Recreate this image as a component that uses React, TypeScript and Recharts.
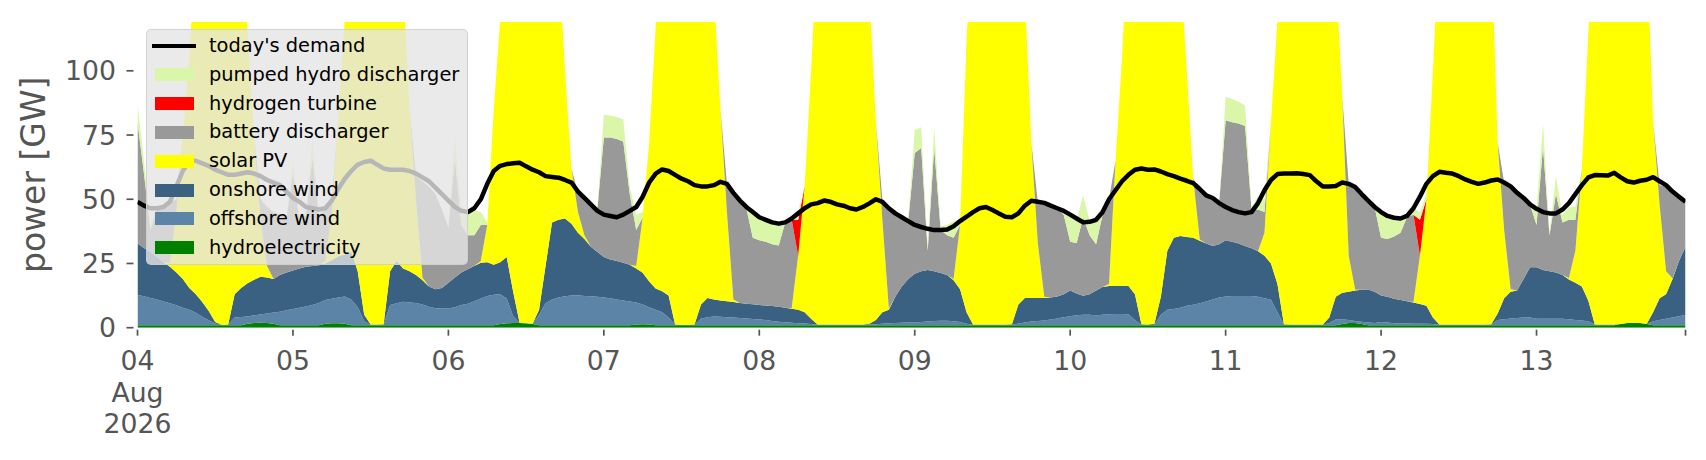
import { ComposedChart, Area, Line, XAxis, YAxis } from 'recharts'

// hourly values, 04 Aug 2026 00:00 .. 13 Aug 2026 23:00 (one line per day)
const hydroelectricity = [
  1, 1, 1, 1, 1, 1, 1, 1, 1, 1, 1, 1, 1, 1, 1, 1, 1, 1.5, 1.8, 1.9, 1.8, 1.5, 1, 1,
  1, 1, 1, 1, 1, 1.5, 1.7, 1.7, 1.5, 1, 1, 1, 1, 1, 1, 1, 1, 1, 1, 1, 1, 1, 1, 1,
  1, 1, 1, 1, 1, 1, 1, 1, 1.4, 1.7, 1.8, 1.8, 1.7, 1.4, 1, 1, 1, 1, 1, 1, 1, 1, 1, 1,
  1, 1, 1, 1, 1, 1.2, 1.3, 1.2, 1, 1, 1, 1, 1, 1, 1, 1, 1, 1, 1, 1, 1, 1, 1, 1,
  1, 1, 1, 1, 1, 1, 1, 1, 1, 1, 1, 1, 1, 1, 1, 1, 1, 1, 1, 1, 1, 1, 1, 1,
  1, 1, 1, 1, 1, 1, 1, 1, 1, 1, 1, 1, 1, 1, 1, 1, 1, 1, 1, 1, 1, 1, 1, 1,
  1, 1, 1, 1, 1, 1, 1, 1, 1, 1, 1, 1, 1, 1, 1, 1, 1, 1, 1, 1, 1, 1, 1, 1,
  1, 1, 1, 1, 1, 1, 1, 1, 1, 1, 1, 1, 1, 1, 1, 1, 1, 1, 1.4, 1.8, 1.8, 1.4, 1, 1,
  1, 1, 1, 1, 1, 1, 1, 1, 1, 1, 1, 1, 1, 1, 1, 1, 1, 1, 1, 1, 1, 1, 1, 1,
  1, 1, 1, 1, 1, 1, 1, 1, 1, 1, 1, 1, 1, 1.4, 1.8, 1.9, 1.8, 1.4, 1, 1, 1, 1, 1, 1,
]

const offshoreWind = [
  11.7, 11.2, 10.6, 10, 9.2, 8.5, 7.7, 6.8, 6, 4.8, 3.3, 1.9, 0.6, 0.1, 0.2, 3, 3.2, 2.9, 3, 3.2, 3.7, 4.4, 5.2, 5.8,
  6.3, 6.8, 7.3, 7.8, 8.6, 9.3, 9.6, 10.1, 10.6, 10, 7, 1.5, 0.1, 0.1, 0.2, 7.8, 8.5, 9.1, 8.8, 8.6, 8, 7.2, 6.6, 6.5,
  6.5, 7, 7.8, 8.3, 9.3, 10.4, 11.3, 11.8, 11.6, 9.7, 2.7, 0, 0, 0.1, 4, 8.5, 10, 10.8, 11.2, 11.5, 11.6, 11.3, 11.2, 11,
  10.8, 10.5, 10, 9.6, 9.2, 8.6, 7.7, 6.8, 6, 5, 3, 0.1, 0.1, 0.1, 0.1, 2.5, 3.1, 3.4, 3.3, 3.1, 3, 2.8, 2.6, 2.4,
  2.2, 2, 1.6, 1.3, 1.1, 0.9, 0.7, 0.6, 0.4, 0.1, 0.1, 0.1, 0.1, 0.1, 0.1, 0.1, 0.1, 0.2, 0.3, 0.5, 0.7, 0.8, 0.9, 1,
  1, 1.2, 1.4, 1.6, 1.7, 1.7, 1.5, 1.2, 0.5, 0.1, 0.1, 0.1, 0.1, 0.1, 0.1, 0.1, 0.6, 1, 1.4, 1.6, 1.8, 2.2, 2.6, 3.1,
  3.5, 3.8, 4, 4, 3.8, 4, 4.2, 4.3, 4.3, 4.2, 2, 0.1, 0.1, 0.1, 4, 6, 6.3, 6.8, 7.5, 7.9, 8.5, 9.2, 10, 10.8,
  11.1, 11.3, 11.3, 11.3, 11.3, 11, 10.5, 9.9, 5, 0.2, 0.1, 0.1, 0.1, 0.1, 0.1, 0.1, 0.8, 2.2, 1.9, 1.2, 0.8, 0.9, 1, 0.8,
  1.2, 1, 0.7, 0.6, 0.6, 0.5, 0.5, 0.5, 0.4, 0.1, 0.1, 0.1, 0.1, 0.1, 0.1, 0.1, 0.1, 0.2, 2, 2.3, 2.6, 2.8, 3, 3,
  2.5, 2.5, 2.5, 2.5, 2.5, 2.3, 2, 1.8, 1.5, 0.2, 0.2, 0.2, 0.2, 0, 0, 0, 0, 0, 1.5, 2, 2.5, 3, 3.5, 4,
]

const onshoreWind = [
  20.1, 18.8, 17.9, 16.5, 15.3, 14.2, 12.8, 11.2, 8.5, 7.2, 5.7, 3.6, 0.6, 0, 0, 9, 11.3, 12.9, 13.9, 14.7, 14, 13.1, 14.3, 14.7,
  15, 15.2, 15.4, 15.2, 14.7, 14.2, 15, 16, 16.4, 18.6, 14, 2.5, 0.1, 0.1, 0.1, 13.2, 16.5, 12.9, 12.2, 10.9, 9.5, 7.8, 7.4, 8,
  10, 11.5, 12.7, 13.5, 13.7, 13.9, 13.2, 11.7, 12.5, 16.1, 9.5, 0, 0, 0, 2, 14.5, 30, 30.2, 30.3, 28, 24.4, 22.2, 19.3, 17.5,
  15.7, 15, 15, 14.7, 14.3, 13.2, 12.4, 10, 8.3, 8.2, 8.5, 0.1, 0, 0, 0.1, 5.5, 7.5, 6.6, 6.3, 6.2, 6, 5.8, 5.7, 5.7,
  5.6, 5.6, 5.8, 5.9, 5.7, 5.5, 5.3, 4.4, 2.1, 0.1, 0.1, 0.1, 0.1, 0.1, 0.1, 0.1, 0.1, 0.3, 1.7, 4.5, 5.3, 10.2, 14.1, 17,
  19, 19.8, 20.1, 19.4, 18.6, 17.8, 16, 12.8, 4.5, 0.1, 0.1, 0.1, 0.1, 0.1, 0.1, 0.2, 7.4, 9.6, 9.2, 9, 8.8, 8.6, 8.5, 8.9,
  10, 8.5, 7.4, 8, 9.7, 10.8, 11, 11, 11, 11, 10, 0.2, 0.1, 0.4, 7, 23, 27.7, 27.9, 26.8, 26.1, 24.3, 22.6, 20.8, 20.7,
  21.9, 21.2, 20.5, 19.5, 18.6, 17.8, 16.5, 14.1, 11, 0.1, 0.1, 0.1, 0.1, 0.1, 0.1, 0.1, 2.2, 8.8, 10.3, 11, 11.9, 12.5, 12.9, 12.2,
  10.3, 10, 9.6, 9.2, 8.7, 8.3, 7.7, 7, 2.6, 0.1, 0.1, 0.1, 0.1, 0.1, 0.1, 0.1, 0.1, 0.1, 2.5, 8.2, 10.4, 10.7, 15, 19.5,
  20, 19, 18.5, 18, 17, 15.5, 14.5, 13.2, 8, 0, 0, 0, 0, 0, 0, 0, 0, 0, 3.5, 8.5, 9.5, 15, 21.5, 26.5,
]

const solarPV = [
  0, 0, 0, 0, 0, 1.3, 23.5, 56, 89.5, 137, 175, 195, 205, 200, 190, 170, 140, 97.7, 56.3, 22.2, 4.5, 0, 0, 0,
  0, 0, 0, 0, 0, 1, 18.7, 54.2, 91.5, 130, 160, 185, 200, 205, 200, 180, 150, 112, 63, 29.5, 1, 0, 0, 0,
  0, 0, 0, 0, 0, 0.7, 14.5, 60.5, 94.5, 140, 170, 190, 200, 195, 185, 165, 140, 103, 57.5, 21.5, 8, 1.5, 0, 0,
  0, 0, 0, 0, 0, 1, 21.6, 54, 101.7, 150, 175, 195, 200, 195, 185, 165, 140, 119, 74.4, 34.7, 1, 0, 0, 0,
  0, 0, 0, 0, 0, 0.2, 21, 49, 96.5, 150, 175, 190, 195, 190, 180, 165, 150, 128.5, 77, 36, 0.5, 0, 0, 0,
  0, 0, 0, 0, 0, 0, 0.5, 25, 106, 160, 185, 200, 205, 200, 190, 175, 155, 118.4, 60.4, 21.4, 0.4, 0, 0, 0,
  0, 0, 0, 0, 0, 0, 0.8, 48.7, 88.7, 140, 170, 190, 200, 200, 190, 175, 150, 104.3, 64.7, 23, 0.5, 0, 0, 0,
  0, 0, 0, 0, 0, 0, 9, 55, 103, 165, 190, 200, 205, 200, 190, 175, 160, 128, 76.4, 14, 0.3, 0, 0, 0,
  0, 0, 0, 0, 0, 0.2, 18.8, 41.5, 96, 150, 180, 195, 200, 195, 185, 170, 160, 148.7, 66.5, 26.5, 1, 0, 0, 0,
  0, 0, 0, 0, 0, 0.5, 12.5, 46, 104.5, 165, 190, 200, 205, 200, 190, 180, 165, 148.7, 74, 36.5, 9, 0.2, 0, 0,
]

const batteryDischarger = [
  47.2, 29, 8.5, 18.5, 21.5, 24, 5, 0, 0, 0, 0, 0, 0, 0, 0, 0, 0, 0, 0, 8, 23, 26, 23.5, 21.5,
  37.7, 19, 20.3, 42, 19.7, 20, 4, 0, 0, 0, 0, 0, 0, 0, 0, 0, 0, 0, 0, 9, 37.5, 39, 37, 30.5,
  21.5, 46.5, 18.5, 13.2, 12, 14, 0, 0, 0, 0, 0, 0, 0, 0, 0, 0, 0, 0, 0, 0, 7.5, 14, 16, 16.5,
  46.5, 47.5, 47.5, 47.2, 27.5, 14, 0, 0, 0, 0, 0, 0, 0, 0, 0, 0, 0, 0, 0, 11, 41.5, 39.9, 37.2, 25.9,
  25.2, 24.9, 24.1, 23.8, 33.2, 34.4, 0, 0, 0, 0, 0, 0, 0, 0, 0, 0, 0, 0, 0, 8, 39, 32.5, 27, 22.5,
  47, 48, 7.5, 48, 16.7, 15.5, 16, 0, 0, 0, 0, 0, 0, 0, 0, 0, 0, 0, 0, 16, 36.6, 35.7, 34.4, 31,
  19, 19.7, 30.6, 23, 18, 28.2, 33, 0, 0, 0, 0, 0, 0, 0, 0, 0, 0, 0, 0, 0, 19.7, 18.7, 18.7, 16,
  46.8, 46.5, 46.7, 46.7, 15.1, 16.2, 8, 0, 0, 0, 0, 0, 0, 0, 0, 0, 0, 0, 0, 28, 40, 37.2, 34.6, 33,
  22.5, 22.5, 24.2, 26.2, 32.7, 34, 0, 0, 0, 0, 0, 0, 0, 0, 0, 0, 0, 0, 0, 18.5, 40, 38, 31.5, 24.5,
  16.5, 47.9, 14, 30.5, 20.5, 22.7, 12, 0, 0, 0, 0, 0, 0, 0, 0, 0, 0, 0, 0, 7.5, 33, 33.8, 25, 17.5,
]

const hydrogenTurbine = [
  0, 0, 0, 0, 0, 0, 0, 0, 0, 0, 0, 0, 0, 0, 0, 0, 0, 0, 0, 0, 0, 0, 0, 0,
  0, 0, 0, 0, 0, 0, 0, 0, 0, 0, 0, 0, 0, 0, 0, 0, 0, 0, 0, 0, 0, 0, 0, 0,
  0, 0, 0, 0, 0, 0, 0, 0, 0, 0, 0, 0, 0, 0, 0, 0, 0, 0, 0, 0, 0, 0, 0, 0,
  0, 0, 0, 0, 0, 0, 0, 0, 0, 0, 0, 0, 0, 0, 0, 0, 0, 0, 0, 0, 0, 0, 0, 0,
  0, 0, 0, 0, 0, 0, 14, 0, 0, 0, 0, 0, 0, 0, 0, 0, 0, 0, 0, 0, 0, 0, 0, 0,
  0, 0, 0, 0, 0, 0, 0, 0, 0, 0, 0, 0, 0, 0, 0, 0, 0, 0, 0, 0, 0, 0, 0, 0,
  0, 0, 0, 0, 0, 0, 0, 0, 0, 0, 0, 0, 0, 0, 0, 0, 0, 0, 0, 0, 0, 0, 0, 0,
  0, 0, 0, 0, 0, 0, 0, 0, 0, 0, 0, 0, 0, 0, 0, 0, 0, 0, 0, 0, 0, 0, 0, 0,
  0, 0, 0, 0, 0, 0, 14, 0, 0, 0, 0, 0, 0, 0, 0, 0, 0, 0, 0, 0, 0, 0, 0, 0,
  0, 0, 0, 0, 0, 0, 0, 0, 0, 0, 0, 0, 0, 0, 0, 0, 0, 0, 0, 0, 0, 0, 0, 0,
]

const pumpedHydro = [
  7, 5, 2, 1, 0.5, 0, 0, 0, 0, 0, 0, 0, 0, 0, 0, 0, 0, 0, 0, 0.5, 0.5, 0.5, 0.5, 0.5,
  5, 1, 1, 8, 0.5, 0.5, 0.5, 0, 0, 0, 0, 0, 0, 0, 0, 0, 0, 0, 0, 0, 0, 0, 0, 0,
  1, 9, 5, 9, 9.5, 5, 1, 0, 0, 0, 0, 0, 0, 0, 0, 0, 0, 0, 0, 0, 0.5, 0.5, 0.5, 0.5,
  9, 8.5, 8.5, 8.5, 3, 6, 2, 0, 0, 0, 0, 0, 0, 0, 0, 0, 0, 0, 0, 0, 0, 0, 0, 10,
  8.5, 8, 8.5, 8.5, 0, 0.5, 3, 0, 0, 0, 0, 0, 0, 0, 0, 0, 0, 0, 0, 0, 0, 0, 0, 1,
  9, 8, 2, 8, 1.5, 4, 6.5, 2, 0, 0, 0, 0, 0, 0, 0, 0, 0, 0, 0, 0, 0, 0, 0, 1.5,
  10, 9, 8.6, 5.5, 9, 1, 0, 0, 0, 0, 0, 0, 0, 0, 0, 0, 0, 0, 0, 0, 0, 0, 0, 0,
  9.1, 9, 8.5, 8, 1, 5, 5, 0, 0, 0, 0, 0, 0, 0, 0, 0, 0, 0, 0, 0, 0, 0, 0, 0,
  10, 9, 7.3, 5.5, 0.5, 2.5, 3, 2, 0, 0, 0, 0, 0, 0, 0, 0, 0, 0, 0, 0, 0, 0, 0, 0,
  6, 9.1, 1, 7, 3, 5, 5, 0, 0, 0, 0, 0, 0, 0, 0, 0, 0, 0, 0, 0, 0, 0, 0, 0,
]

const demand = [
  49, 47.5, 46.5, 46.5, 47, 49, 55, 61, 65, 65, 64, 63, 61.5, 60.5, 59.5, 59.5, 60, 60.5, 60, 59, 57.5, 56.5, 55.5, 53,
  50.5, 49, 47, 46.5, 46, 46.5, 49.5, 54, 58, 61, 63.5, 64.5, 65, 63.5, 62, 61.5, 61.5, 61.5, 61, 60, 58.5, 57, 54.5, 52,
  49.5, 47, 45.5, 45, 46.5, 50, 56, 61, 63, 63.7, 64, 64.2, 62.8, 61.5, 60.5, 59, 58.7, 58.4, 57.5, 56.5, 53, 50.5, 48, 45.5,
  44, 43.5, 43, 44, 45.5, 47, 51, 56.5, 60, 61.6, 61, 59.5, 58, 57, 55.5, 55, 55, 55.5, 56.8, 56, 52.5, 49.5, 47, 45,
  43, 42, 41, 40.5, 41, 42.5, 44.5, 46.5, 48, 48.5, 49.5, 49, 48, 47.5, 46.5, 46, 47, 48.4, 50, 49, 46.5, 44.5, 43, 41.5,
  40, 39.2, 38.5, 38, 38, 38.2, 39.5, 41.5, 43.2, 45, 46.5, 47, 45.8, 44.5, 43.2, 43, 44.5, 47.5, 49.4, 49, 48.6, 47.5, 46.5, 45.5,
  44, 42.5, 41, 41.2, 42, 45, 50, 53.5, 57, 59.5, 61.5, 62, 61.5, 61.6, 60.8, 59.8, 59, 58, 57.2, 56.3, 54, 51.5, 50.5, 48.5,
  47, 45.8, 45, 44.5, 45, 48.5, 53.5, 57.5, 59.8, 60, 60, 60.1, 59.8, 59.4, 57, 55, 55, 55.2, 56.5, 56, 54.8, 52, 49.5, 47,
  45, 43.5, 42.8, 42.5, 43.5, 46.5, 51, 56, 59, 60.7, 60.3, 60, 59, 57.7, 56.8, 56, 56.5, 57.3, 57.7, 56.5, 55, 52.5, 50.5, 48,
  46.3, 45, 44.5, 44.5, 46, 48.5, 52, 55.5, 58.5, 59.4, 59.3, 59.2, 60.3, 58.5, 57, 56.5, 57.2, 57.6, 58.6, 57, 55.5, 53, 51, 49,
]

const dayLabels = ['04', '05', '06', '07', '08', '09', '10', '11', '12', '13']
const yTicks = [0, 25, 50, 75, 100]

const SERIES = [
  { key: 'hydro', name: 'hydroelectricity', color: '#008000', values: hydroelectricity },
  { key: 'offshore', name: 'offshore wind', color: '#5c84a6', values: offshoreWind },
  { key: 'onshore', name: 'onshore wind', color: '#3b6182', values: onshoreWind },
  { key: 'solar', name: 'solar PV', color: '#ffff00', values: solarPV },
  { key: 'battery', name: 'battery discharger', color: '#999999', values: batteryDischarger },
  { key: 'hydrogen', name: 'hydrogen turbine', color: '#ff0000', values: hydrogenTurbine },
  { key: 'pumped', name: 'pumped hydro discharger', color: '#daf6a8', values: pumpedHydro },
]

const rows = demand.map((d, i) => {
  const row: Record<string, number> = { h: i, demand: d }
  SERIES.forEach((s) => {
    row[s.key] = s.values[i]
  })
  return row
})

const xTicks = [...dayLabels.map((_, i) => i * 24), 239]
const FONT = '"DejaVu Sans", sans-serif'
const GREY = '#555555'

function XTick({ x, y, payload }: any) {
  const h = payload.value
  const label = h % 24 === 0 ? dayLabels[h / 24] : null
  return (
    <g>
      <line x1={x} x2={x} y1={y + 2} y2={y + 8} stroke={GREY} strokeWidth={1.7} />
      {label && (
        <text x={x} y={y + 42.5} textAnchor="middle" fill={GREY} fontSize={26.7} fontFamily={FONT}>
          {label}
        </text>
      )}
      {h === 0 && (
        <>
          <text x={x} y={y + 74} textAnchor="middle" fill={GREY} fontSize={26.7} fontFamily={FONT}>Aug</text>
          <text x={x} y={y + 105.6} textAnchor="middle" fill={GREY} fontSize={26.7} fontFamily={FONT}>2026</text>
        </>
      )}
    </g>
  )
}

function YTick({ x, y, payload }: any) {
  return (
    <g>
      <line x1={x - 11} x2={x - 4} y1={y} y2={y} stroke={GREY} strokeWidth={1.7} />
      <text x={x - 21.5} y={y + 9.6} textAnchor="end" fill={GREY} fontSize={26.7} fontFamily={FONT}>
        {payload.value}
      </text>
    </g>
  )
}

const legendItems = [
  { name: "today's demand", color: '#000000', line: true },
  ...[...SERIES].reverse().map((s) => ({ name: s.name, color: s.color, line: false })),
]

export default function App() {
  return (
    <div style={{ position: 'absolute', left: 0, top: 0, width: 1706, height: 460, background: '#ffffff' }}>
      <ComposedChart width={1706} height={460} data={rows} margin={{ top: 22, right: 20.5, bottom: 0, left: 0 }}>
        <XAxis
          dataKey="h"
          type="number"
          domain={[0, 239]}
          ticks={xTicks}
          interval={0}
          allowDataOverflow
          axisLine={false}
          tickLine={false}
          tickSize={0}
          tickMargin={0}
          height={132.3}
          tick={<XTick />}
        />
        <YAxis
          type="number"
          domain={[0, 119]}
          ticks={yTicks}
          allowDataOverflow
          axisLine={false}
          tickLine={false}
          tickSize={0}
          tickMargin={0}
          width={137.5}
          tick={<YTick />}
        />
        {SERIES.map((s) => (
          <Area
            key={s.key}
            type="linear"
            dataKey={s.key}
            stackId="supply"
            fill={s.color}
            fillOpacity={1}
            stroke="none"
            dot={false}
            activeDot={false}
            isAnimationActive={false}
          />
        ))}
        <Line
          type="linear"
          dataKey="demand"
          stroke="#000000"
          strokeWidth={4.5}
          strokeLinejoin="round"
          dot={false}
          activeDot={false}
          isAnimationActive={false}
        />
      </ComposedChart>
      <svg width={80} height={460} style={{ position: 'absolute', left: 0, top: 0 }}>
        <text
          x={45}
          y={174.8}
          transform="rotate(-90 45 174.8)"
          textAnchor="middle"
          fill={GREY}
          fontSize={33}
          fontFamily={FONT}
        >
          power [GW]
        </text>
      </svg>
      <div
        style={{
          position: 'absolute',
          left: 146,
          top: 29,
          width: 322,
          height: 236,
          boxSizing: 'border-box',
          background: 'rgba(229,229,229,0.8)',
          border: '1px solid rgba(204,204,204,0.8)',
          borderRadius: 5,
          fontFamily: FONT,
          fontSize: 19.4,
          color: '#000000',
        }}
      >
        {legendItems.map((item, i) => {
          const cy = 16 + i * 28.8
          return (
            <div key={item.name}>
              {item.line ? (
                <div style={{ position: 'absolute', left: 5, top: cy - 2.3, width: 44, height: 4.6, background: item.color }} />
              ) : (
                <div style={{ position: 'absolute', left: 8, top: cy - 6.5, width: 39, height: 13, background: item.color }} />
              )}
              <div style={{ position: 'absolute', left: 62, top: cy - 12, height: 24, lineHeight: '24px', whiteSpace: 'nowrap' }}>
                {item.name}
              </div>
            </div>
          )
        })}
      </div>
    </div>
  )
}
